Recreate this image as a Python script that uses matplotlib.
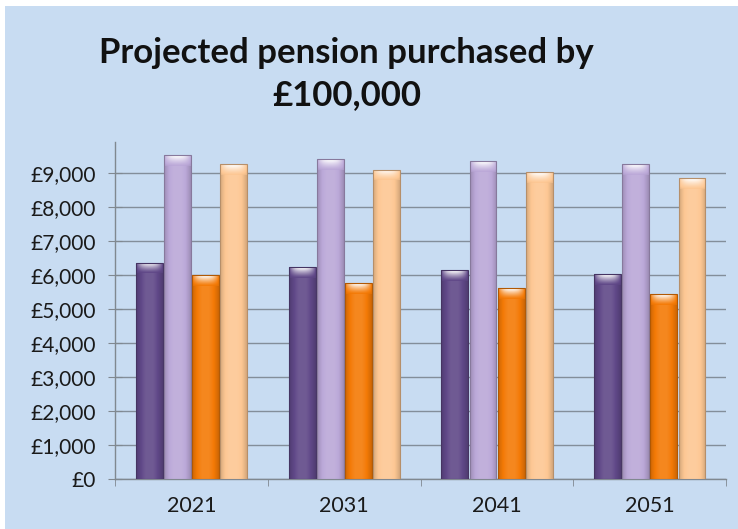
import numpy as np
import matplotlib
matplotlib.use("Agg")
import matplotlib.pyplot as plt
from matplotlib.colors import to_rgb

# ---------------------------------------------------------------------------
# Data
# ---------------------------------------------------------------------------
years = ["2021", "2031", "2041", "2051"]
series_a = [6360, 6240, 6130, 6030]   # dark purple
series_b = [9530, 9410, 9340, 9260]   # light purple
series_c = [6000, 5770, 5600, 5440]   # orange
series_d = [9260, 9090, 9020, 8850]   # peach
y_ticks = [0, 1000, 2000, 3000, 4000, 5000, 6000, 7000, 8000, 9000]

colors = ["#604888", "#bba8d8", "#f47a06", "#fdc793"]
BG = "#c8dcf2"
FONT = ["Lato", "DejaVu Sans"]


def mix(b, k):
    """k > 0 mixes towards white, k < 0 towards black."""
    k = k[..., None]
    return np.clip(np.where(k > 0, b + (1 - b) * k, b * (1 + k)), 0, 1)


def gradient_bar(ax, patch, base):
    x0, y0 = patch.get_x(), patch.get_y()
    w, h = patch.get_width(), patch.get_height()
    b = np.asarray(to_rgb(base))
    # horizontal bevel shading on the body
    t = np.linspace(0, 1, 64)
    k = np.clip(0.28 * np.sin(np.pi * t) - 0.16, -0.25, 0.1)
    im = ax.imshow(mix(b, k)[None, :, :], extent=(x0, x0 + w, y0, y0 + h),
                   aspect="auto", origin="lower", zorder=3,
                   interpolation="bilinear")
    im.set_clip_path(patch)
    # lighter bevelled cap on top, brightest at the top centre
    cap = 320
    u = np.linspace(0, 1, 32)[None, :]
    v = np.linspace(0, 1, 24)[:, None]
    centre = 1 - np.abs(2 * u - 1) ** 2.5
    kc = 0.95 * v ** 1.3 * centre + 0.12 * v - 0.08 * (1 - centre)
    im2 = ax.imshow(mix(b, kc), extent=(x0, x0 + w, y0 + h - cap, y0 + h),
                    aspect="auto", origin="lower", zorder=4,
                    interpolation="bilinear")
    im2.set_clip_path(patch)


fig = plt.figure(figsize=(7.38, 5.29), dpi=100, facecolor="white")
# light blue chart area with thin white strip at top and left
bg = plt.Rectangle((5 / 738, 0), 1, 1 - 6 / 529, transform=fig.transFigure,
                   facecolor=BG, edgecolor="none", zorder=-10)
fig.add_artist(bg)
ax = fig.add_axes([0.156, 0.0945, 0.828, 0.637])
ax.set_facecolor(BG)

x = np.arange(len(years))
step = 0.184
width = 0.176
all_series = [series_a, series_b, series_c, series_d]
for i, (vals, col) in enumerate(zip(all_series, colors)):
    bars = ax.bar(x + (i - 1.5) * step, vals, width, color=col,
                  edgecolor="none", zorder=2)
    for p in bars:
        gradient_bar(ax, p, col)
        edge = plt.Rectangle((p.get_x(), 0), p.get_width(), p.get_height(),
                             fill=False,
                             edgecolor=tuple(np.asarray(to_rgb(col)) * 0.72),
                             linewidth=0.8, zorder=5)
        ax.add_patch(edge)

ax.set_xlim(-0.5, len(years) - 0.5)
ax.set_ylim(0, 9900)
ax.set_yticks(y_ticks)
ax.set_yticklabels([f"£{v:,}" for v in y_ticks], fontsize=15, family=FONT,
                   color="#1a1a1a")
ax.set_xticks(x)
ax.set_xticklabels(years, fontsize=15.5, family=FONT, color="#1a1a1a")
ax.set_xticks(np.arange(len(years) + 1) - 0.5, minor=True)
ax.tick_params(axis="x", which="major", length=0, pad=12)
ax.tick_params(axis="x", which="minor", length=5, color="#808890", direction="out")
ax.tick_params(axis="y", length=10, color="#808890", direction="inout", pad=9)

ax.grid(axis="y", color="#838e9a", linewidth=1.0, zorder=1)
ax.set_axisbelow(True)
for s in ["top", "right"]:
    ax.spines[s].set_visible(False)
for s in ["left", "bottom"]:
    ax.spines[s].set_color("#808890")
    ax.spines[s].set_linewidth(1.0)

fig.text(0.47, 0.900, "Projected pension purchased by", ha="center", va="center",
         fontsize=25, fontweight="bold", family=FONT, color="#111111")
fig.text(0.47, 0.820, "£100,000", ha="center", va="center",
         fontsize=25, fontweight="bold", family=FONT, color="#111111")

fig.savefig("out.png", dpi=100, facecolor="white")
